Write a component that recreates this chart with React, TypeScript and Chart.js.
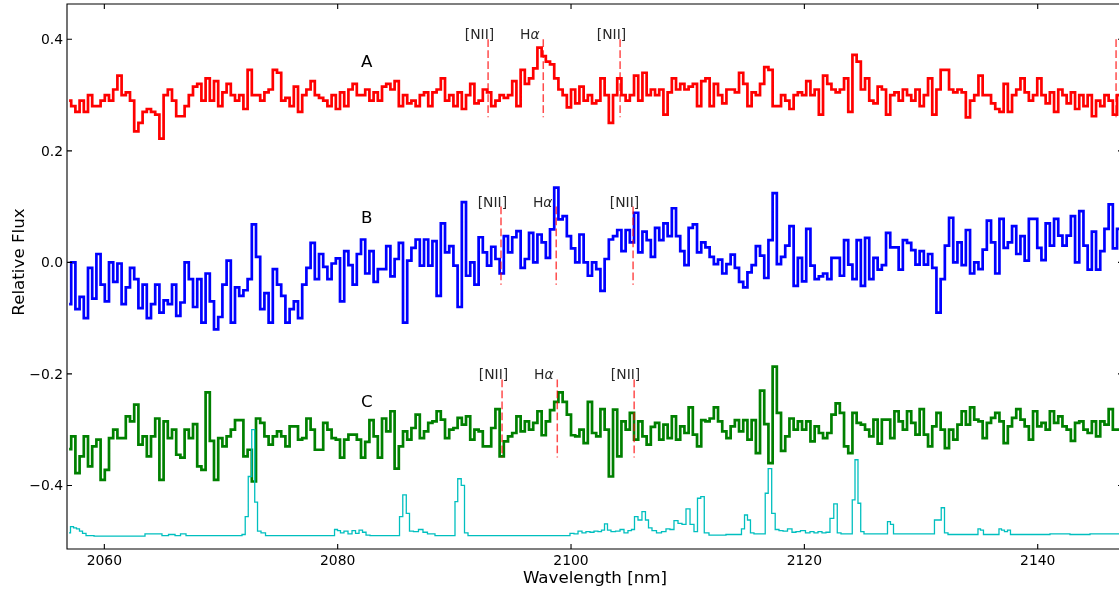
import { useEffect, useRef } from "react";
import { Chart, registerables } from "chart.js";

Chart.register(...registerables);

// Wavelength sampling of the extracted spectra (bin centres, nm)
const WL_START = 2056.98;
const WL_STEP = 0.36;

// Axis limits and ticks
const X_MIN = 2056.8;
const X_MAX = 2147.31;
const Y_MIN = -0.514;
const Y_MAX = 0.4633;
const xTicks = [2060, 2080, 2100, 2120, 2140];
const yTicks = [-0.4, -0.2, 0.0, 0.2, 0.4];

// Object A (offset +0.3)
const fluxA = [
  0.29, 0.28, 0.27, 0.29, 0.27, 0.30, 0.28, 0.28, 0.29, 0.30,
  0.29, 0.31, 0.335, 0.30, 0.305, 0.29, 0.235, 0.25, 0.27, 0.275,
  0.27, 0.265, 0.222, 0.30, 0.31, 0.29, 0.262, 0.262, 0.28, 0.30,
  0.315, 0.32, 0.29, 0.33, 0.29, 0.325, 0.28, 0.305, 0.32, 0.30,
  0.29, 0.30, 0.275, 0.345, 0.30, 0.30, 0.29, 0.305, 0.31, 0.345,
  0.34, 0.29, 0.295, 0.28, 0.315, 0.27, 0.30, 0.31, 0.325, 0.30,
  0.295, 0.29, 0.28, 0.30, 0.275, 0.305, 0.28, 0.31, 0.32, 0.30,
  0.30, 0.31, 0.29, 0.305, 0.29, 0.315, 0.32, 0.31, 0.325, 0.28,
  0.30, 0.285, 0.29, 0.28, 0.30, 0.305, 0.28, 0.305, 0.31, 0.33,
  0.29, 0.30, 0.28, 0.305, 0.275, 0.30, 0.32, 0.285, 0.29, 0.31,
  0.305, 0.28, 0.29, 0.30, 0.295, 0.30, 0.325, 0.28, 0.345, 0.32,
  0.33, 0.348, 0.385, 0.37, 0.36, 0.355, 0.33, 0.31, 0.30, 0.278,
  0.31, 0.285, 0.315, 0.29, 0.30, 0.285, 0.29, 0.33, 0.30, 0.25,
  0.30, 0.33, 0.30, 0.29, 0.30, 0.335, 0.29, 0.34, 0.30, 0.31,
  0.30, 0.31, 0.265, 0.305, 0.33, 0.31, 0.32, 0.31, 0.315, 0.32,
  0.28, 0.325, 0.33, 0.28, 0.32, 0.30, 0.285, 0.31, 0.31, 0.305,
  0.34, 0.32, 0.28, 0.305, 0.30, 0.32, 0.35, 0.345, 0.28, 0.28,
  0.30, 0.29, 0.275, 0.30, 0.305, 0.30, 0.325, 0.30, 0.31, 0.265,
  0.335, 0.32, 0.31, 0.305, 0.31, 0.33, 0.27, 0.372, 0.36, 0.31,
  0.33, 0.29, 0.285, 0.315, 0.31, 0.265, 0.30, 0.305, 0.29, 0.31,
  0.30, 0.29, 0.31, 0.28, 0.30, 0.33, 0.265, 0.31, 0.345, 0.345,
  0.31, 0.305, 0.31, 0.305, 0.26, 0.29, 0.30, 0.335, 0.30, 0.30,
  0.285, 0.275, 0.27, 0.32, 0.27, 0.30, 0.31, 0.33, 0.305, 0.29,
  0.30, 0.33, 0.30, 0.285, 0.305, 0.27, 0.31, 0.30, 0.285, 0.305,
  0.275, 0.30, 0.28, 0.30, 0.262, 0.29, 0.28, 0.30, 0.29, 0.265, 0.30,
];

// Object B (no offset)
const fluxB = [
  -0.075, 0.0, -0.084, -0.062, -0.10, -0.01, -0.065, 0.015, -0.04, -0.07,
  0.0, -0.035, -0.002, -0.075, -0.045, -0.01, -0.03, -0.082, -0.04, -0.10,
  -0.075, -0.04, -0.09, -0.068, -0.075, -0.04, -0.096, -0.072, 0.0, -0.03,
  -0.08, -0.03, -0.108, -0.02, -0.07, -0.12, -0.098, -0.04, 0.003, -0.108,
  -0.045, -0.06, -0.05, -0.03, 0.068, 0.01, -0.084, -0.055, -0.108, -0.012,
  -0.04, -0.06, -0.108, -0.084, -0.07, -0.10, -0.04, -0.01, 0.035, -0.03,
  0.015, -0.008, -0.03, -0.002, 0.007, -0.07, 0.02, -0.005, -0.04, 0.015,
  0.041, -0.02, 0.02, -0.035, -0.012, -0.012, 0.029, -0.025, 0.006, 0.035,
  -0.108, 0.003, 0.026, 0.041, -0.006, 0.041, -0.006, 0.038, -0.06, 0.07,
  0.018, 0.029, -0.006, -0.08, 0.108, -0.024, 0.0, -0.04, 0.045, 0.018,
  -0.006, 0.028, 0.006, -0.02, 0.047, 0.018, 0.045, 0.056, -0.01, 0.006,
  0.053, 0.0, 0.05, 0.036, 0.008, 0.059, 0.134, 0.077, 0.083, 0.047,
  0.025, 0.0, 0.05, 0.0, -0.024, 0.0, -0.012, -0.051, 0.006, 0.041,
  0.047, 0.058, 0.02, 0.058, 0.036, 0.089, 0.018, 0.055, 0.04, 0.01,
  0.062, 0.04, 0.07, 0.047, 0.097, 0.047, 0.02, -0.005, 0.062, 0.068,
  0.018, 0.036, 0.027, 0.01, -0.003, 0.005, -0.02, -0.003, 0.014, -0.01,
  -0.035, -0.045, -0.018, -0.005, 0.029, 0.012, -0.028, 0.04, 0.124, -0.003,
  0.01, 0.03, 0.065, -0.042, 0.008, -0.034, 0.06, -0.006, -0.03, -0.025,
  -0.02, -0.03, 0.008, 0.008, -0.024, 0.04, -0.004, -0.03, 0.04, -0.042,
  0.044, -0.03, 0.008, -0.013, -0.005, 0.053, 0.027, 0.027, -0.013, 0.04,
  0.035, 0.022, -0.004, 0.02, -0.004, 0.015, -0.01, -0.09, -0.03, 0.03,
  0.08, 0.0, 0.036, -0.005, 0.058, -0.02, 0.0, -0.012, 0.023, 0.075,
  0.036, -0.02, 0.078, 0.026, 0.036, 0.065, 0.015, 0.047, 0.003, 0.078,
  0.078, 0.026, 0.004, 0.07, 0.03, 0.078, 0.048, 0.03, 0.048, 0.083,
  0.0, 0.092, 0.03, -0.013, 0.055, -0.013, 0.02, 0.06, 0.104, 0.025, 0.06,
];

// Object C (offset -0.3)
const fluxC = [
  -0.335, -0.312, -0.378, -0.348, -0.312, -0.366, -0.33, -0.318, -0.39, -0.372,
  -0.315, -0.30, -0.315, -0.315, -0.276, -0.285, -0.255, -0.327, -0.312, -0.348,
  -0.312, -0.28, -0.39, -0.285, -0.315, -0.30, -0.345, -0.35, -0.30, -0.315,
  -0.29, -0.366, -0.372, -0.233, -0.32, -0.39, -0.315, -0.33, -0.312, -0.30,
  -0.283, -0.283, -0.348, -0.336, -0.393, -0.28, -0.288, -0.312, -0.327, -0.312,
  -0.303, -0.312, -0.33, -0.294, -0.294, -0.318, -0.315, -0.28, -0.30, -0.336,
  -0.336, -0.288, -0.30, -0.315, -0.318, -0.35, -0.318, -0.309, -0.309, -0.318,
  -0.35, -0.322, -0.283, -0.312, -0.35, -0.28, -0.303, -0.267, -0.37, -0.33,
  -0.303, -0.318, -0.297, -0.273, -0.315, -0.303, -0.288, -0.285, -0.267, -0.282,
  -0.315, -0.30, -0.297, -0.279, -0.291, -0.276, -0.318, -0.30, -0.303, -0.33,
  -0.33, -0.297, -0.263, -0.348, -0.321, -0.312, -0.306, -0.276, -0.303, -0.285,
  -0.30, -0.288, -0.267, -0.31, -0.285, -0.265, -0.25, -0.233, -0.25, -0.273,
  -0.31, -0.312, -0.30, -0.324, -0.25, -0.306, -0.312, -0.263, -0.30, -0.384,
  -0.264, -0.348, -0.285, -0.30, -0.27, -0.318, -0.285, -0.312, -0.327, -0.295,
  -0.288, -0.318, -0.291, -0.315, -0.276, -0.318, -0.294, -0.306, -0.26, -0.309,
  -0.33, -0.283, -0.285, -0.28, -0.26, -0.285, -0.303, -0.315, -0.294, -0.283,
  -0.303, -0.283, -0.318, -0.283, -0.342, -0.23, -0.29, -0.36, -0.187, -0.27,
  -0.338, -0.312, -0.28, -0.30, -0.285, -0.30, -0.285, -0.321, -0.294, -0.306,
  -0.315, -0.306, -0.273, -0.253, -0.27, -0.33, -0.342, -0.27, -0.288, -0.291,
  -0.30, -0.312, -0.282, -0.325, -0.282, -0.282, -0.315, -0.267, -0.285, -0.30,
  -0.267, -0.288, -0.309, -0.263, -0.309, -0.33, -0.294, -0.27, -0.30, -0.333,
  -0.30, -0.318, -0.291, -0.267, -0.291, -0.26, -0.282, -0.285, -0.315, -0.288,
  -0.279, -0.27, -0.285, -0.324, -0.294, -0.279, -0.263, -0.282, -0.294, -0.318,
  -0.267, -0.294, -0.288, -0.30, -0.267, -0.288, -0.276, -0.294, -0.30, -0.32,
  -0.288, -0.285, -0.30, -0.306, -0.285, -0.312, -0.285, -0.291, -0.263, -0.30, -0.30,
];

// Scaled sky emission spectrum, sampled where it varies (nm, flux)
const skyWl = [
  2056.97, 2057.23, 2057.49, 2057.74, 2058.0, 2058.26, 2058.6, 2059.63, 2062.2,
  2064.77, 2065.11, 2065.89, 2066.23, 2066.83, 2067.17, 2068.2, 2071.63, 2071.97,
  2072.18, 2072.49, 2072.78, 2073.0, 2073.26, 2073.6, 2074.03, 2076.77, 2079.6,
  2079.86, 2080.11, 2080.37, 2080.71, 2081.06, 2081.4, 2081.66, 2082.0, 2082.26,
  2082.6, 2082.94, 2085.17, 2085.43, 2085.73, 2086.03, 2086.28, 2086.71, 2087.14,
  2087.48, 2087.91, 2088.77, 2089.97, 2090.14, 2090.44, 2090.74, 2091.0, 2091.34,
  2095.63, 2099.74, 2100.08, 2100.43, 2100.77, 2101.11, 2101.45, 2101.8, 2102.14,
  2102.48, 2102.74, 2103.0, 2103.25, 2103.6, 2104.03, 2104.37, 2104.71, 2105.05,
  2105.31, 2105.57, 2105.91, 2106.25, 2106.51, 2106.77, 2107.11, 2107.54, 2107.97,
  2108.31, 2108.65, 2109.0, 2109.34, 2109.68, 2110.03, 2110.37, 2110.71, 2110.97,
  2111.27, 2111.57, 2112.08, 2114.48, 2114.74, 2115.0, 2115.25, 2115.51, 2115.85,
  2116.54, 2116.75, 2117.05, 2117.35, 2117.65, 2118.0, 2118.34, 2118.77, 2119.11,
  2119.45, 2119.88, 2120.31, 2120.65, 2121.0, 2121.34, 2121.68, 2122.02, 2122.37,
  2122.67, 2122.97, 2123.31, 2124.0, 2124.21, 2124.47, 2124.72, 2124.94, 2125.28,
  2127.0, 2127.25, 2127.51, 2127.77, 2131.02, 2131.28, 2131.58, 2131.88, 2132.14,
  2132.48, 2134.79, 2134.97, 2135.22, 2135.48, 2136.59, 2136.77, 2137.02, 2137.28,
  2137.54, 2137.79, 2140.19, 2141.91, 2143.62, 2145.34, 2147.31,
];
const skyFlux = [
  -0.485, -0.474, -0.476, -0.478, -0.482, -0.486, -0.49, -0.491, -0.491,
  -0.487, -0.49, -0.488, -0.49, -0.487, -0.49, -0.49, -0.49, -0.488,
  -0.456, -0.384, -0.30, -0.43, -0.482, -0.485, -0.49, -0.49, -0.49,
  -0.479, -0.481, -0.485, -0.482, -0.487, -0.481, -0.486, -0.48, -0.484,
  -0.489, -0.49, -0.49, -0.456, -0.417, -0.45, -0.482, -0.483, -0.479,
  -0.484, -0.487, -0.49, -0.49, -0.429, -0.388, -0.40, -0.485, -0.49,
  -0.49, -0.49, -0.486, -0.487, -0.482, -0.485, -0.483, -0.484, -0.482,
  -0.483, -0.48, -0.469, -0.48, -0.483, -0.482, -0.479, -0.485, -0.481,
  -0.479, -0.456, -0.462, -0.447, -0.462, -0.476, -0.481, -0.485, -0.483,
  -0.478, -0.479, -0.463, -0.468, -0.47, -0.442, -0.47, -0.483, -0.423,
  -0.42, -0.485, -0.489, -0.488, -0.478, -0.453, -0.462, -0.485, -0.487,
  -0.487, -0.414, -0.37, -0.45, -0.479, -0.481, -0.482, -0.478, -0.484,
  -0.483, -0.481, -0.485, -0.483, -0.485, -0.483, -0.485, -0.484, -0.459,
  -0.433, -0.485, -0.487, -0.487, -0.426, -0.354, -0.432, -0.483, -0.487,
  -0.487, -0.465, -0.47, -0.487, -0.487, -0.462, -0.462, -0.44, -0.485,
  -0.488, -0.488, -0.478, -0.48, -0.488, -0.488, -0.478, -0.48, -0.483,
  -0.48, -0.488, -0.488, -0.487, -0.488, -0.487, -0.487,
];

// Emission lines: rest wavelengths (nm) and their labels ("" = unlabelled)
const lineRest = [654.8, 656.28, 658.34, 671.64];
const lineNames = ["[NII]", "Hα", "[NII]", ""];

// Per-object (1 + z), marker top / length in flux units, name and label position
const objectNames = ["A", "B", "C"];
const objectStretch = [3.19623, 3.19792, 3.19806];
const markerTop = [0.4, 0.1, -0.21];
const markerLength = 0.14;
const nameX = 2082;
const nameY = [0.35, 0.07, -0.26];
const labelShift = 2.0; // label starts this many nm left of its line

const FONT = '"DejaVu Sans", "Liberation Sans", sans-serif';

function toPoints(values: number[]) {
  return values.map((v, i) => ({ x: WL_START + i * WL_STEP, y: v }));
}

function pairPoints(xs: number[], ys: number[]) {
  const n = Math.min(xs.length, ys.length);
  const out: { x: number; y: number }[] = [];
  for (let i = 0; i < n; i++) out.push({ x: xs[i], y: ys[i] });
  return out;
}

function fmtTick(v: number) {
  const s = Math.abs(v).toFixed(1);
  return v < -1e-9 ? "\u2212" + s : s;
}

const spectrumDecor = {
  id: "spectrumDecor",
  afterDatasetsDraw(chart: any) {
    const { ctx, chartArea: a, scales } = chart;
    const x = scales.x;
    const y = scales.y;
    ctx.save();
    ctx.beginPath();
    ctx.rect(a.left, a.top, a.right - a.left, a.bottom - a.top);
    ctx.clip();

    // dashed line markers and their labels
    objectNames.forEach((_, k) => {
      lineRest.forEach((rest, j) => {
        const wl = rest * objectStretch[k];
        const px = x.getPixelForValue(wl);
        const top = y.getPixelForValue(markerTop[k]);
        const bot = y.getPixelForValue(markerTop[k] - markerLength);
        ctx.save();
        ctx.strokeStyle = "rgba(255,0,0,0.7)";
        ctx.lineWidth = 1.5;
        ctx.setLineDash([7.7, 3.3]);
        ctx.beginPath();
        ctx.moveTo(px, top);
        ctx.lineTo(px, bot);
        ctx.stroke();
        ctx.restore();

        const name = lineNames[j];
        if (!name) return;
        const lx = x.getPixelForValue(wl - labelShift);
        ctx.fillStyle = "rgba(0,0,0,0.85)";
        ctx.textAlign = "left";
        ctx.textBaseline = "alphabetic";
        if (name === "Hα") {
          ctx.font = `13.9px ${FONT}`;
          ctx.fillText("H", lx, top);
          const w = ctx.measureText("H").width;
          ctx.font = `italic 13.9px ${FONT}`;
          ctx.fillText("α", lx + w, top);
        } else {
          ctx.font = `13.9px ${FONT}`;
          ctx.fillText(name, lx, top);
        }
      });

      // object name
      ctx.fillStyle = "#000";
      ctx.font = `16.7px ${FONT}`;
      ctx.textAlign = "left";
      ctx.textBaseline = "alphabetic";
      ctx.fillText(objectNames[k], x.getPixelForValue(nameX), y.getPixelForValue(nameY[k]));
    });
    ctx.restore();
  },
  afterDraw(chart: any) {
    const { ctx, chartArea: a, scales } = chart;
    const x = scales.x;
    const y = scales.y;
    ctx.save();
    ctx.strokeStyle = "#000";
    ctx.lineWidth = 1.1;

    // frame
    ctx.beginPath();
    ctx.moveTo(a.left, a.top);
    ctx.lineTo(a.right, a.top);
    ctx.lineTo(a.right, a.bottom);
    ctx.lineTo(a.left, a.bottom);
    ctx.closePath();
    ctx.stroke();

    // inward ticks on all four sides
    const TL = 5;
    ctx.beginPath();
    xTicks.forEach((t) => {
      const px = x.getPixelForValue(t);
      ctx.moveTo(px, a.bottom);
      ctx.lineTo(px, a.bottom - TL);
      ctx.moveTo(px, a.top);
      ctx.lineTo(px, a.top + TL);
    });
    yTicks.forEach((t) => {
      const py = y.getPixelForValue(t);
      ctx.moveTo(a.left, py);
      ctx.lineTo(a.left + TL, py);
      ctx.moveTo(a.right, py);
      ctx.lineTo(a.right - TL, py);
    });
    ctx.stroke();

    // tick labels
    ctx.fillStyle = "#000";
    ctx.font = `13.9px ${FONT}`;
    ctx.textBaseline = "alphabetic";
    ctx.textAlign = "center";
    xTicks.forEach((t) => {
      ctx.fillText(String(t), x.getPixelForValue(t), a.bottom + 16);
    });
    ctx.textAlign = "right";
    yTicks.forEach((t) => {
      ctx.fillText(fmtTick(t), a.left - 4, y.getPixelForValue(t) + 5);
    });

    // axis titles
    ctx.font = `16.7px ${FONT}`;
    ctx.textAlign = "center";
    ctx.fillText("Wavelength [nm]", 595, a.bottom + 34);
    ctx.save();
    ctx.translate(24, 262);
    ctx.rotate(-Math.PI / 2);
    ctx.fillText("Relative Flux", 0, 0);
    ctx.restore();

    ctx.restore();
  },
};

export default function App() {
  const canvasRef = useRef<HTMLCanvasElement | null>(null);

  useEffect(() => {
    const canvas = canvasRef.current;
    if (!canvas) return;
    const chart = new Chart(canvas, {
      type: "line",
      data: {
        datasets: [
          {
            label: "sky",
            data: pairPoints(skyWl, skyFlux),
            borderColor: "#00bfbf",
            borderWidth: 1.3,
            stepped: "middle",
            pointRadius: 0,
            fill: false,
          },
          {
            label: "C",
            data: toPoints(fluxC),
            borderColor: "#008000",
            borderWidth: 2.7,
            stepped: "middle",
            pointRadius: 0,
            fill: false,
          },
          {
            label: "B",
            data: toPoints(fluxB),
            borderColor: "#0000ff",
            borderWidth: 2.7,
            stepped: "middle",
            pointRadius: 0,
            fill: false,
          },
          {
            label: "A",
            data: toPoints(fluxA),
            borderColor: "#ff0000",
            borderWidth: 2.7,
            stepped: "middle",
            pointRadius: 0,
            fill: false,
          },
        ],
      },
      options: {
        animation: false,
        responsive: false,
        maintainAspectRatio: false,
        devicePixelRatio: 1,
        layout: { padding: { top: 4, left: 0, right: 1, bottom: 0 } },
        plugins: {
          legend: { display: false },
          tooltip: { enabled: false },
        },
        events: [],
        scales: {
          x: {
            type: "linear",
            min: X_MIN,
            max: X_MAX,
            ticks: { display: false },
            grid: { display: false, drawTicks: false },
            border: { display: false },
            afterFit: (s: any) => {
              s.height = 45;
            },
          },
          y: {
            type: "linear",
            min: Y_MIN,
            max: Y_MAX,
            ticks: { display: false },
            grid: { display: false, drawTicks: false },
            border: { display: false },
            afterFit: (s: any) => {
              s.width = 67;
            },
          },
        },
      },
      plugins: [spectrumDecor],
    });
    return () => chart.destroy();
  }, []);

  return (
    <div
      style={{
        position: "fixed",
        left: 0,
        top: 0,
        width: 1119,
        height: 594,
        overflow: "hidden",
        background: "#fff",
      }}
    >
      <canvas ref={canvasRef} width={1124} height={594} style={{ display: "block" }} />
    </div>
  );
}
